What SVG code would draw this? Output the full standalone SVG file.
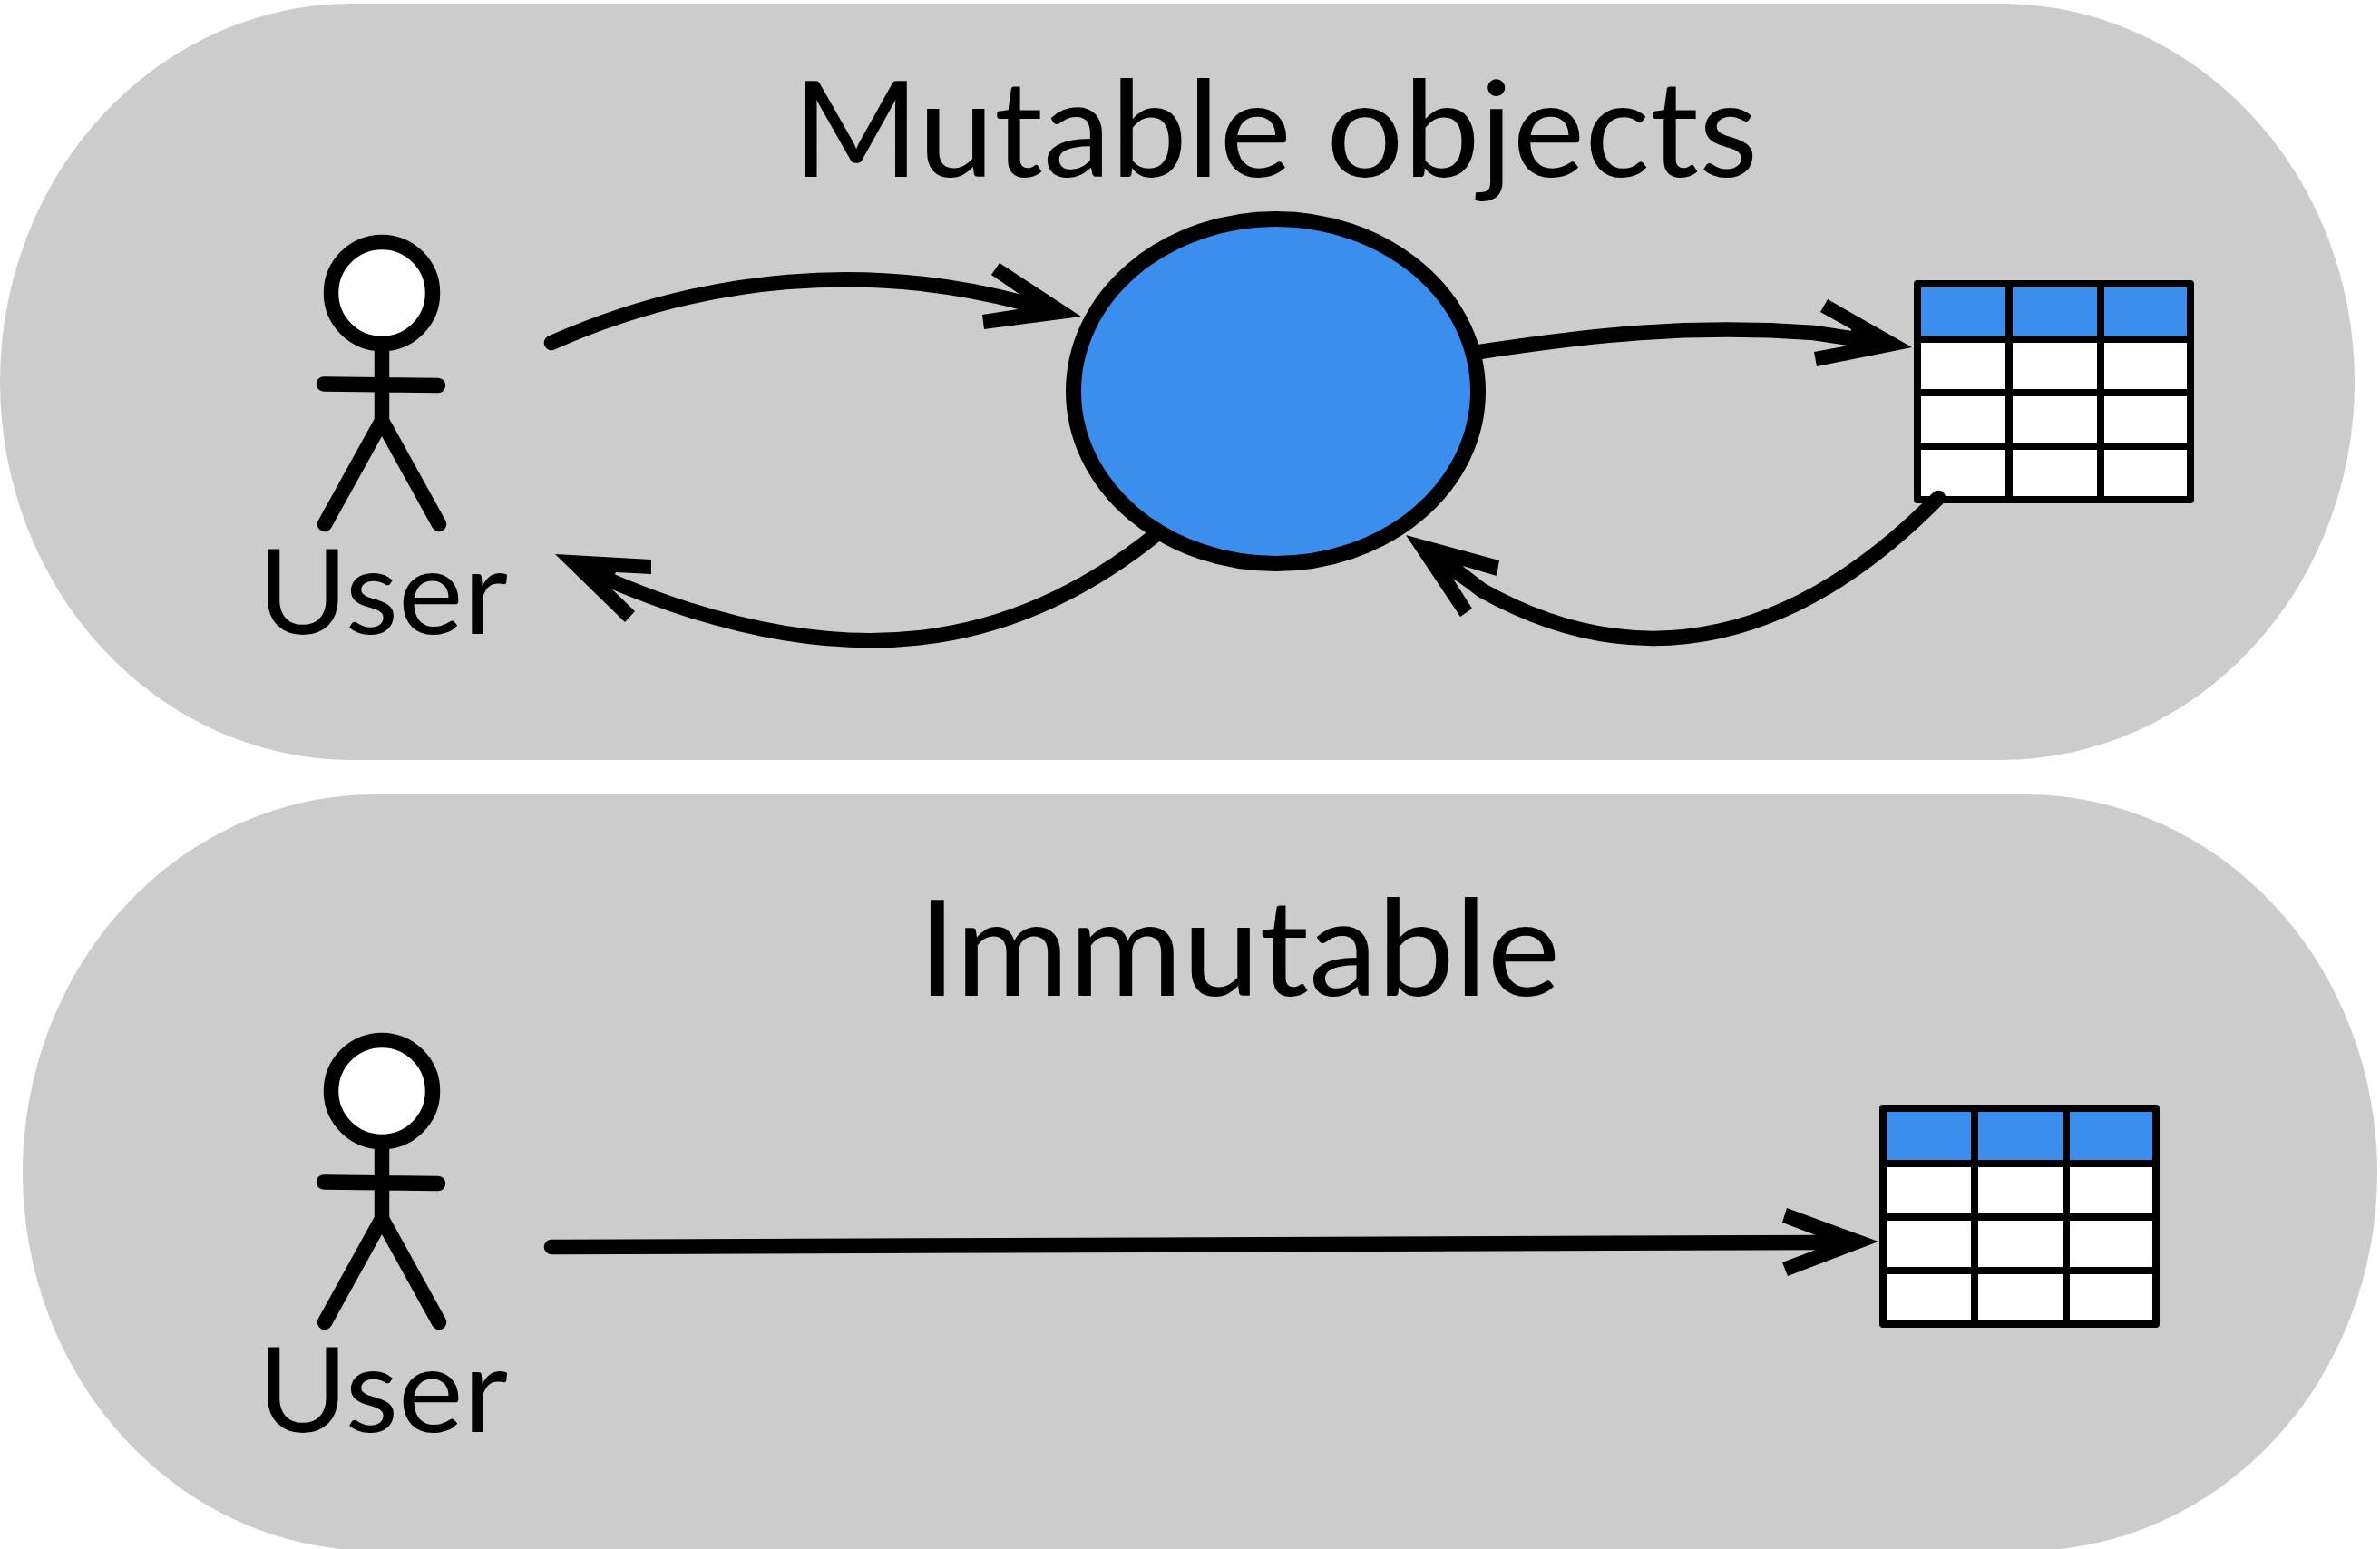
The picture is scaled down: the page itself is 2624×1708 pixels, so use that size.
<svg xmlns="http://www.w3.org/2000/svg" width="2624" height="1708" viewBox="0 0 2624 1708">
<style>
.band{fill:#cccccc}
.txt{font-family:"Lato","Noto Sans","Liberation Sans",sans-serif;fill:#000}
.title{font-size:147px}
.lab{font-size:129px}
.limb{fill:none;stroke:#000;stroke-width:16.5;stroke-linecap:round;stroke-linejoin:round}
.head{fill:#fff;stroke:#000;stroke-width:16.5}
.cell{fill:#fff}
.hdr{fill:#3b8eed}
.grid{fill:none;stroke:#000;stroke-width:8;stroke-linecap:round;stroke-linejoin:round}
.wire{fill:none;stroke:#000;stroke-width:16.5;stroke-linecap:round}
.hd{fill:#000}
</style>
<defs>
<g id="fig">
<circle class="head" cx="421" cy="323" r="56"/>
<path class="limb" d="M421 380V462M357 423.500L483 425M358 578L421 464L484 578"/>
</g>
<g id="tbl">
<rect class="hdr" width="301" height="61"/>
<rect class="cell" y="61" width="301" height="177"/>
<path class="grid" d="M0 0H301V238H0ZM101 0V238M202 0V238M0 61H301M0 120H301M0 179H301"/>
</g>
</defs>
<g id="band-mutable"><path class="band" d="M388 4H2206A390 417 0 0 1 2206 838H388A388 417 0 0 1 388 4Z"/></g>
<g id="band-immutable"><path class="band" d="M413 876H2233A388 417 0 0 1 2233 1710H413A388 417 0 0 1 413 876Z"/></g>
<g id="title-mutable"><text class="txt title" x="874" y="195" textLength="1064" lengthAdjust="spacingAndGlyphs">Mutable objects</text></g>
<g id="title-immutable"><text class="txt title" x="1012" y="1098" textLength="708" lengthAdjust="spacingAndGlyphs">Immutable</text></g>
<g id="user-1"><use href="#fig"/><text class="txt lab" x="284" y="699" textLength="276" lengthAdjust="spacingAndGlyphs">User</text></g>
<g id="user-2"><use href="#fig" y="880"/><text class="txt lab" x="284" y="1579" textLength="276" lengthAdjust="spacingAndGlyphs">User</text></g>
<g id="object"><ellipse cx="1406.500" cy="431.500" rx="223" ry="190" fill="#3b8eed" stroke="#000" stroke-width="17"/></g>
<g id="table-1"><use href="#tbl" x="2114" y="313"/></g>
<g id="table-2"><use href="#tbl" x="2076" y="1222"/></g>
<g id="connectors">
<path class="wire" d="M608 378C780 302 960 290 1125 333"/>
<path class="hd" d="M1102 290L1093 303L1125 325L1122 341L1083 347L1085 363L1192 349Z"/>
<path class="wire" stroke-linecap="butt" d="M1631 388C1750 370 1860 357 2000 367L2040 373"/>
<path class="hd" d="M2015 330L2007 344L2041 363L2038 381L2000 388L2003 404L2108 383Z"/>
<path class="wire" d="M1275 589C1120 714 935 752 670 639"/>
<path class="hd" d="M612 611L718 617L718 633L679 631L672 647L700 674L689 686Z"/>
<path class="wire" stroke-linecap="butt" d="M2137 549C1985 703 1815 752 1634 651L1608 631"/>
<path class="hd" d="M1550 590L1653 618L1650 635L1613 624L1630 657L1602 638L1623 671L1610 680Z"/>
<path class="wire" d="M608 1375L2010 1370"/>
<path class="hd" d="M1970 1332L1965 1348L2002 1362V1378L1965 1392L1971 1407L2071 1369Z"/>
</g>
</svg>
